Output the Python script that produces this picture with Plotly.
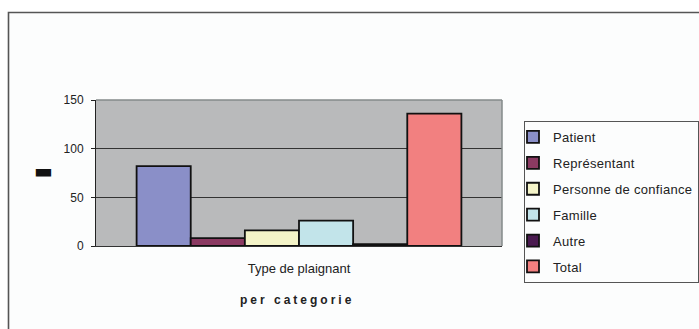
import plotly.graph_objects as go

categories = ["Type de plaignant"]
series_names = ["Patient", "Représentant", "Personne de confiance", "Famille", "Autre", "Total"]
series_values = [82, 8, 16, 26, 2, 136]
series_colors = ["#8a8fc8", "#8b3a62", "#f4f4c8", "#c2e4ea", "#4a1a50", "#f28080"]
y_ticks = [0, 50, 100, 150]

W, H = 699, 329
L, R, T, B = 96, 197, 20, 83
pw, ph = W - L - R, H - T - B
PLOT_TOP = 100  # pixel row of the top of the grey plot area

def px(x):
    return (x - L) / pw

def py(y):
    return (H - B - y) / ph

fig = go.Figure()
for name, val, col in zip(series_names, series_values, series_colors):
    fig.add_trace(go.Bar(
        x=categories, y=[val],
        name='<span style="letter-spacing:0.3px">%s</span>' % name,
        legendgroup=name,
        marker=dict(color=col, line=dict(color="#111111", width=1.8)),
    ))

ytop = py(PLOT_TOP)

fig.update_layout(
    width=W, height=H,
    margin=dict(l=L, r=R, t=T, b=B, pad=0, autoexpand=False),
    paper_bgcolor="#fcfdfd",
    plot_bgcolor="#b9babb",
    barmode="group", bargap=0.2, bargroupgap=0,
    font=dict(family="Liberation Sans, Arial, sans-serif", size=12, color="#222222"),
    showlegend=True,
    legend=dict(
        x=px(524), y=py(121), xanchor="left", yanchor="top",
        bordercolor="#555555", borderwidth=1, bgcolor="rgba(0,0,0,0)",
        font=dict(size=13, color="#222222"),
        tracegroupgap=6, itemclick=False, indentation=-12,
    ),
    xaxis=dict(
        showline=True, linecolor="#333333", linewidth=1,
        ticks="", tickfont=dict(size=13), ticklabelstandoff=10,
        showgrid=False, fixedrange=True,
    ),
    yaxis=dict(
        domain=[0, ytop],
        range=[0, 150], tickvals=y_ticks, showline=True, linecolor="#222222", linewidth=1,
        ticks="outside", ticklen=4, tickcolor="#222222", tickfont=dict(size=12),
        ticklabelstandoff=5,
        showgrid=True, gridcolor="#333333", gridwidth=1, zeroline=False, fixedrange=True,
    ),
    shapes=[
        # white area outside the chart frame
        dict(type="rect", xref="paper", yref="paper", x0=px(-5), x1=px(8), y0=py(400), y1=py(-5),
             fillcolor="white", line=dict(width=0), layer="below"),
        dict(type="rect", xref="paper", yref="paper", x0=px(-5), x1=px(800), y0=py(12), y1=py(-5),
             fillcolor="white", line=dict(width=0), layer="below"),
        # chart frame
        dict(type="rect", xref="paper", yref="paper", x0=px(8.5), x1=px(760), y0=py(400), y1=py(12.5),
             fillcolor="rgba(0,0,0,0)", line=dict(color="#555555", width=1.6)),
        # plot area top/right border
        dict(type="line", xref="paper", yref="paper", x0=0, x1=1, y0=ytop, y1=ytop,
             line=dict(color="#858a8a", width=1.5)),
        dict(type="line", xref="paper", yref="paper", x0=1, x1=1, y0=0, y1=ytop,
             line=dict(color="#858a8a", width=1.5)),
    ],
    annotations=[
        dict(text='<span style="letter-spacing:3px"><b>per categorie</b></span>',
             xref="paper", yref="paper", x=px(297), y=py(300), xanchor="center", yanchor="middle",
             showarrow=False, font=dict(size=12, color="#222222")),
        dict(text="▬", xref="paper", yref="paper", x=px(44), y=py(171), xanchor="center", yanchor="middle",
             showarrow=False, font=dict(family="DejaVu Sans", size=20, color="#111111")),
    ],
)

fig.write_html("out.html")
